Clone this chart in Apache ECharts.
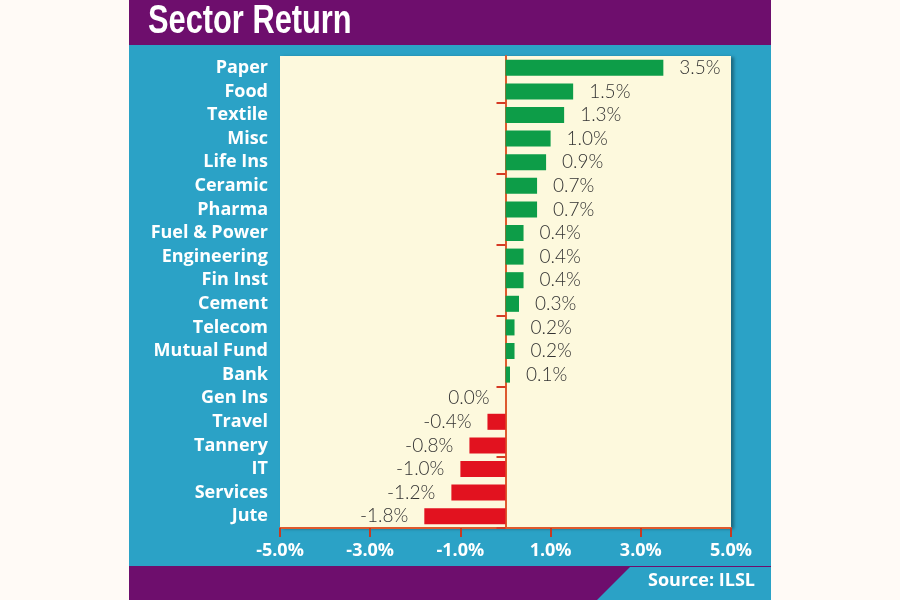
<!DOCTYPE html>
<html>
<head>
<meta charset="utf-8">
<script src="https://cdn.jsdelivr.net/npm/echarts@6/dist/echarts.min.js"></script>
<style>
html,body{margin:0;padding:0;background:#fffaf6;}
#chart{width:900px;height:600px;}
</style>
</head>
<body>
<div id="chart"></div>
<script>
const categories = ['Paper','Food','Textile','Misc','Life Ins','Ceramic','Pharma','Fuel & Power','Engineering','Fin Inst','Cement','Telecom','Mutual Fund','Bank','Gen Ins','Travel','Tannery','IT','Services','Jute'];
const returns = [3.5,1.5,1.3,1.0,0.9,0.7,0.7,0.4,0.4,0.4,0.3,0.2,0.2,0.1,0.0,-0.4,-0.8,-1.0,-1.2,-1.8];
const xTicks = [-5,-3,-1,1,3,5];
const titleText = 'Sector Return';
const sourceText = 'Source: ILSL';

const TEAL = '#2ba2c6';
const PURPLE = '#6e0e6d';
const AXIS_RED = '#de5a2e';

const chart = echarts.init(document.getElementById('chart'), null, {renderer:'canvas'});

const barData = returns.map(v => ({
  value: v,
  itemStyle: {color: v >= 0 ? '#0d9d48' : '#e2121f'},
  label: {position: v > 0 ? 'right' : 'left'}
}));

chart.setOption({
  backgroundColor: '#fffaf6',
  animation: false,
  graphic: [
    {type:'rect', z:-10, shape:{x:129, y:0, width:642, height:600}, style:{fill:TEAL}},
    {type:'rect', z:-9, shape:{x:129, y:0, width:642, height:45}, style:{fill:PURPLE}},
    {type:'rect', z:-9, shape:{x:129, y:566, width:642, height:34}, style:{fill:PURPLE}},
    {type:'polygon', z:-8, shape:{points:[[630,567],[771,567],[771,600],[597,600]]}, style:{fill:TEAL}},
    {type:'text', z:5, x:148, y:2, scaleX:0.77, style:{text:titleText, fill:'#ffffff', font:'bold 40px "Liberation Sans", sans-serif'}},
    {type:'text', z:5, right:145, top:572, style:{text:sourceText, fill:'#ffffff', font:'bold 18px "Open Sans", sans-serif'}}
  ],
  grid: {
    left: 280, right: 169, top: 56, bottom: 72,
    show: true, backgroundColor: '#fdf9dd', borderWidth: 0,
    shadowColor: 'rgba(0,0,0,0.35)', shadowBlur: 3, shadowOffsetX: 3, shadowOffsetY: 1
  },
  xAxis: {
    type: 'value', min: -5, max: 5,
    splitLine: {show:false},
    axisLine: {show:true, onZero:false, lineStyle:{color:AXIS_RED, width:2}},
    axisTick: {show:true, length:9, customValues: xTicks, lineStyle:{color:'#c63a22', width:2}},
    axisLabel: {
      customValues: xTicks, margin: 14,
      color:'#ffffff', fontWeight:'bold', fontSize:18, fontFamily:'"Open Sans", sans-serif',
      formatter: v => v.toFixed(1) + '%'
    }
  },
  yAxis: [
    {
      type: 'category', data: categories, inverse: true,
      axisLine: {show:false, onZero:false}, axisTick: {show:false},
      axisLabel: {color:'#ffffff', fontWeight:'bold', fontSize:18, fontFamily:'"Open Sans", sans-serif', margin: 12}
    },
    {
      type: 'category', data: categories, inverse: true, position: 'left',
      axisLine: {show:true, onZero:true, onZeroAxisIndex:0, lineStyle:{color:AXIS_RED, width:2}},
      axisTick: {show:true, interval: (i) => i % 3 === 2, length:9, lineStyle:{color:'#d63a24', width:2}},
      axisLabel: {show:false}
    }
  ],
  series: [{
    type: 'bar', yAxisIndex: 0, data: barData, barWidth: '68%',
    label: {
      show: true, distance: 16, color:'#333333', fontSize:19, fontWeight: 300,
      fontFamily:'Lato, sans-serif',
      formatter: p => p.value.toFixed(1) + '%'
    }
  }]
});
</script>
</body>
</html>
